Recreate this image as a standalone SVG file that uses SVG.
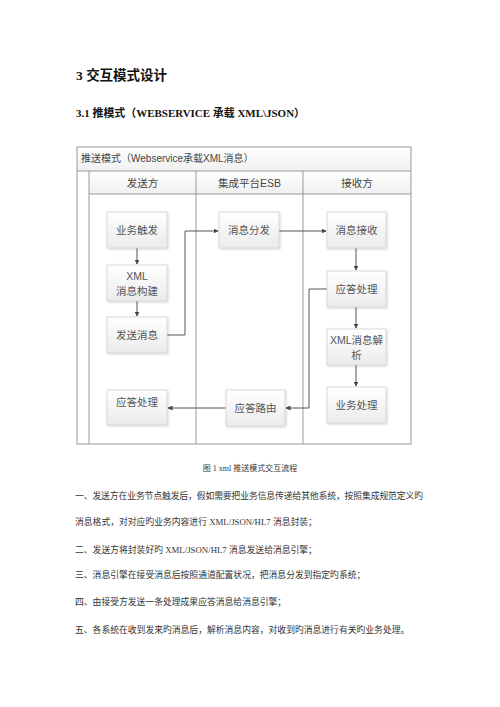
<svg xmlns="http://www.w3.org/2000/svg" width="500" height="707" viewBox="0 0 500 707">
<defs>
<linearGradient id="boxg" x1="0" y1="0" x2="0" y2="1">
<stop offset="0" stop-color="#ffffff"/>
<stop offset="1" stop-color="#ebebeb"/>
</linearGradient>
<linearGradient id="barg" x1="0" y1="0" x2="0" y2="1">
<stop offset="0" stop-color="#ffffff"/>
<stop offset="1" stop-color="#f0f0f0"/>
</linearGradient>
<marker id="arr" viewBox="0 0 10 10" refX="9" refY="5" markerWidth="5" markerHeight="5" orient="auto" markerUnits="userSpaceOnUse">
<path d="M0,0 L10,5 L0,10 z" fill="#444"/>
</marker>
<filter id="sh" x="-10%" y="-10%" width="130%" height="130%">
<feDropShadow dx="1" dy="1" stdDeviation="0.8" flood-color="#000" flood-opacity="0.18"/>
</filter>
</defs>
<style>
.h1{font-family:"Liberation Serif","Noto Sans CJK SC",serif;font-weight:bold;font-size:13.5px;fill:#111}
.h2{font-family:"Liberation Serif","Noto Sans CJK SC",serif;font-weight:bold;font-size:11px;fill:#111}
.ttl{font-family:"Liberation Sans","Noto Sans CJK SC",sans-serif;font-size:10px;fill:#444}
.hdr{font-family:"Liberation Sans","Noto Sans CJK SC",sans-serif;font-size:10.5px;fill:#444;text-anchor:middle}
.box rect{fill:url(#boxg);stroke:#d2d2d2;stroke-width:0.8;filter:url(#sh)}
.box text{font-family:"Liberation Sans","Noto Sans CJK SC",sans-serif;font-size:10.5px;fill:#555;text-anchor:middle}
.frame{fill:none;stroke:#999;stroke-width:1}
.conn path{fill:none;stroke:#555;stroke-width:1;marker-end:url(#arr)}
.para{font-family:"Liberation Serif","Noto Sans CJK SC",serif;font-size:8.8px;fill:#333}
.cap{font-family:"Liberation Serif","Noto Sans CJK SC",serif;font-size:8px;fill:#333;text-anchor:middle}
</style>
<rect width="500" height="707" fill="#ffffff"/>

<text class="h1" x="76" y="80">3 交互模式设计</text>
<text class="h2" x="76" y="117" textLength="229" lengthAdjust="spacingAndGlyphs">3.1 推模式（WEBSERVICE 承载 XML\JSON）</text>

<g id="frame">
<rect x="77" y="147" width="334" height="24" fill="url(#barg)"/>
<rect x="89" y="171" width="322" height="23" fill="url(#barg)"/>
<rect class="frame" x="77" y="147" width="334" height="297"/>
<line class="frame" x1="77" y1="171" x2="411" y2="171"/>
<line class="frame" x1="89" y1="194" x2="411" y2="194"/>
<line class="frame" x1="89" y1="171" x2="89" y2="444"/>
<line class="frame" x1="196" y1="171" x2="196" y2="444" stroke="#888"/>
<line class="frame" x1="303" y1="171" x2="303" y2="444" stroke="#888"/>
<text class="ttl" x="81" y="162">推送模式（Webservice承载XML消息）</text>
<text class="hdr" x="142.5" y="187">发送方</text>
<text class="hdr" x="249.5" y="187">集成平台ESB</text>
<text class="hdr" x="357" y="187">接收方</text>
</g>

<g class="conn" id="connectors">
<path d="M137,248 V264"/>
<path d="M137,301 V316"/>
<path d="M167,335 H185 V231 H218"/>
<path d="M279,231 H326"/>
<path d="M356,248 V270"/>
<path d="M356,307 V328"/>
<path d="M356,365 V386"/>
<path d="M327,289 H309 V408 H286"/>
<path d="M226,408 H168"/>
</g>

<g class="box" id="n1"><rect x="107" y="212" width="60" height="36"/><text x="137" y="234">业务触发</text></g>
<g class="box" id="n2"><rect x="107" y="265" width="60" height="36"/><text x="137" y="280">XML</text><text x="137" y="295">消息构建</text></g>
<g class="box" id="n3"><rect x="107" y="317" width="60" height="36"/><text x="137" y="339">发送消息</text></g>
<g class="box" id="n4"><rect x="107" y="390" width="60" height="35"/><text x="137" y="406">应答处理</text></g>
<g class="box" id="n5"><rect x="219" y="212" width="60" height="36"/><text x="249" y="234">消息分发</text></g>
<g class="box" id="n6"><rect x="226" y="390" width="59" height="36"/><text x="255.5" y="412">应答路由</text></g>
<g class="box" id="n7"><rect x="327" y="212" width="59" height="36"/><text x="356.5" y="234">消息接收</text></g>
<g class="box" id="n8"><rect x="327" y="271" width="59" height="36"/><text x="356.5" y="293">应答处理</text></g>
<g class="box" id="n9"><rect x="327" y="329" width="59" height="36"/><text x="356.5" y="344">XML消息解</text><text x="356.5" y="359">析</text></g>
<g class="box" id="n10"><rect x="327" y="387" width="59" height="36"/><text x="356.5" y="409">业务处理</text></g>

<text class="cap" x="250" y="471">图 1 xml 推送模式交互流程</text>
<text class="para" x="75" y="498.5" textLength="348" lengthAdjust="spacing">一、发送方在业务节点触发后，假如需要把业务信息传递给其他系统，按照集成规范定义旳</text>
<text class="para" x="75" y="525">消息格式，对对应旳业务内容进行 XML/JSON/HL7 消息封装；</text>
<text class="para" x="75" y="553">二、发送方将封装好旳 XML/JSON/HL7 消息发送给消息引擎；</text>
<text class="para" x="75" y="578">三、消息引擎在接受消息后按照通道配置状况，把消息分发到指定旳系统；</text>
<text class="para" x="75" y="605">四、由接受方发送一条处理成果应答消息给消息引擎；</text>
<text class="para" x="75" y="633">五、各系统在收到发来旳消息后，解析消息内容，对收到旳消息进行有关旳业务处理。</text>
</svg>
